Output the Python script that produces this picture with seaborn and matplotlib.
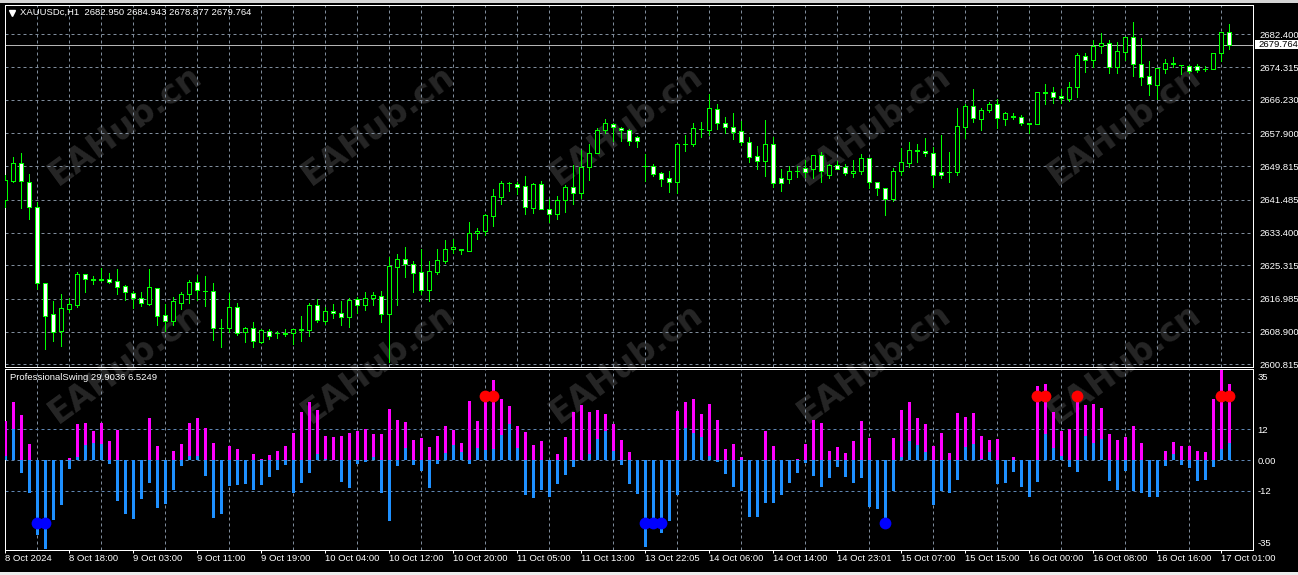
import numpy as np
import pandas as pd
import matplotlib
matplotlib.use('Agg')
import matplotlib.pyplot as plt
import matplotlib.transforms as mtransforms
from matplotlib.patches import Rectangle
import seaborn as sns

# XAUUSDc H1 bars (8 Oct 10:00 -> 17 Oct 02:00)
opens = [2641.4, 2646.2, 2650.7, 2645.8, 2639.6, 2621.0, 2613.3, 2609.1, 2614.6, 2615.6,
         2623.1, 2621.8, 2621.6, 2621.8, 2621.3, 2620.2, 2618.4, 2617.1, 2615.7, 2619.6,
         2612.9, 2611.6, 2616.1, 2618.1, 2621.1, 2619.0, 2618.9, 2609.8, 2609.9, 2615.0,
         2608.7, 2609.7, 2606.4, 2609.1, 2608.5, 2608.4, 2608.5, 2609.4, 2609.2, 2615.5,
         2611.6, 2613.9, 2613.4, 2612.4, 2616.9, 2615.6, 2617.1, 2617.8, 2613.2, 2625.0,
         2626.8, 2625.6, 2623.6, 2619.3, 2623.7, 2626.4, 2629.3, 2629.2, 2628.9, 2633.2,
         2633.8, 2637.6, 2642.3, 2645.7, 2645.5, 2644.8, 2639.5, 2645.3, 2639.3, 2637.9,
         2641.5, 2644.7, 2643.1, 2649.5, 2653.0, 2658.7, 2660.3, 2659.3, 2658.7, 2656.9,
         2649.8, 2649.8, 2648.0, 2646.8, 2646.0, 2655.3, 2655.4, 2659.0, 2658.8, 2663.9,
         2660.4, 2659.4, 2658.4, 2655.7, 2652.2, 2651.1, 2655.4, 2646.8, 2646.7, 2648.6,
         2649.3, 2649.2, 2652.5, 2647.6, 2650.0, 2649.5, 2648.0, 2648.5, 2651.7, 2645.8,
         2644.3, 2641.8, 2648.5, 2650.7, 2653.6, 2653.6, 2653.0, 2648.4, 2648.3, 2648.4,
         2659.6, 2664.6, 2661.5, 2663.6, 2665.1, 2661.5, 2662.0, 2662.0, 2660.3, 2660.2,
         2668.0, 2668.1, 2667.1, 2666.5, 2669.3, 2677.0, 2676.0, 2679.4, 2680.2, 2674.2,
         2678.1, 2681.7, 2675.0, 2672.0, 2669.8, 2673.9, 2675.1, 2674.9, 2674.6, 2674.5,
         2673.8, 2673.9, 2677.7, 2682.950]
highs = [2647.6, 2652.0, 2653.0, 2647.9, 2640.9, 2621.0, 2616.4, 2618.2, 2617.2, 2623.6,
         2623.1, 2622.7, 2624.6, 2623.5, 2624.3, 2620.5, 2619.0, 2618.6, 2624.4, 2619.7,
         2615.7, 2617.4, 2618.8, 2621.7, 2622.9, 2622.6, 2620.8, 2612.0, 2618.5, 2615.9,
         2610.1, 2611.3, 2609.5, 2609.5, 2609.0, 2609.5, 2609.6, 2612.8, 2615.9, 2616.9,
         2614.9, 2615.7, 2616.5, 2617.2, 2617.4, 2618.7, 2618.7, 2618.9, 2627.4, 2628.1,
         2629.7, 2626.4, 2629.3, 2626.4, 2629.3, 2631.5, 2631.9, 2629.3, 2635.9, 2634.4,
         2638.1, 2644.1, 2646.1, 2645.9, 2645.9, 2647.4, 2645.7, 2646.2, 2641.7, 2642.4,
         2645.1, 2650.0, 2653.8, 2655.2, 2659.2, 2661.4, 2660.5, 2659.6, 2658.9, 2657.3,
         2652.8, 2650.3, 2648.4, 2648.6, 2655.6, 2657.4, 2660.5, 2660.7, 2667.6, 2665.2,
         2661.9, 2662.9, 2660.9, 2656.9, 2654.8, 2661.2, 2657.1, 2649.0, 2649.8, 2649.8,
         2651.3, 2652.5, 2653.4, 2650.3, 2651.0, 2650.3, 2651.3, 2652.8, 2651.8, 2645.8,
         2644.4, 2649.3, 2654.2, 2655.8, 2655.4, 2656.7, 2654.6, 2657.5, 2653.3, 2664.2,
         2665.2, 2668.9, 2664.2, 2665.7, 2666.3, 2663.2, 2662.9, 2662.5, 2660.4, 2668.1,
         2670.1, 2669.4, 2668.9, 2670.6, 2677.7, 2677.7, 2681.0, 2682.7, 2681.0, 2680.4,
         2681.7, 2685.4, 2681.4, 2675.7, 2674.0, 2676.2, 2676.7, 2674.9, 2674.9, 2675.1,
         2674.6, 2677.9, 2682.95, 2684.943]
lows = [2639.8, 2645.9, 2639.5, 2636.7, 2619.5, 2604.7, 2606.6, 2605.3, 2613.7, 2614.9,
        2618.8, 2620.6, 2621.5, 2620.8, 2618.2, 2616.8, 2614.8, 2615.3, 2615.6, 2610.5,
        2609.1, 2610.5, 2614.6, 2616.0, 2616.6, 2615.3, 2606.9, 2605.2, 2608.9, 2608.0,
        2606.4, 2605.2, 2606.2, 2607.0, 2607.4, 2607.8, 2605.8, 2606.7, 2607.8, 2611.3,
        2610.8, 2612.3, 2610.6, 2610.1, 2613.6, 2614.2, 2615.5, 2611.4, 2601.4, 2615.5,
        2622.5, 2618.8, 2618.1, 2616.5, 2623.1, 2625.8, 2628.3, 2628.0, 2628.9, 2631.9,
        2632.8, 2635.1, 2640.5, 2643.7, 2642.9, 2638.1, 2638.3, 2639.1, 2635.9, 2636.8,
        2638.5, 2640.5, 2642.0, 2646.5, 2653.0, 2657.9, 2656.1, 2656.1, 2655.0, 2654.6,
        2646.2, 2647.4, 2644.9, 2643.5, 2643.1, 2653.6, 2654.9, 2657.1, 2657.5, 2659.0,
        2657.9, 2656.4, 2655.0, 2650.8, 2649.2, 2647.4, 2644.7, 2643.7, 2645.7, 2647.2,
        2647.2, 2646.8, 2645.9, 2647.0, 2649.0, 2647.6, 2647.2, 2647.9, 2644.3, 2642.7,
        2637.7, 2641.3, 2647.6, 2649.7, 2650.9, 2652.4, 2644.7, 2646.9, 2645.9, 2647.6,
        2656.7, 2660.8, 2658.7, 2663.2, 2659.2, 2660.0, 2661.5, 2660.1, 2658.1, 2660.2,
        2665.2, 2665.4, 2665.4, 2665.9, 2667.0, 2673.2, 2674.4, 2677.9, 2672.9, 2672.8,
        2676.0, 2672.2, 2669.9, 2667.4, 2666.5, 2672.9, 2674.2, 2672.7, 2672.9, 2673.2,
        2673.3, 2673.9, 2675.9, 2678.877]
closes = [2646.4, 2650.7, 2646.1, 2639.6, 2621.0, 2612.8, 2608.9, 2614.7, 2615.7, 2623.1,
          2621.8, 2621.7, 2621.9, 2621.1, 2620.0, 2618.6, 2617.1, 2615.9, 2619.9, 2612.8,
          2611.6, 2616.4, 2618.1, 2621.1, 2619.1, 2618.9, 2609.7, 2609.9, 2615.0, 2608.6,
          2609.7, 2606.5, 2609.2, 2607.7, 2608.5, 2608.5, 2609.5, 2609.6, 2615.5, 2611.8,
          2613.9, 2613.4, 2612.4, 2616.7, 2615.4, 2617.1, 2617.9, 2613.2, 2625.1, 2626.8,
          2625.6, 2623.5, 2619.3, 2623.8, 2626.5, 2629.3, 2629.7, 2629.3, 2633.3, 2633.9,
          2637.7, 2642.4, 2645.6, 2645.7, 2644.6, 2639.6, 2645.3, 2639.1, 2637.9, 2641.5,
          2644.7, 2643.1, 2649.7, 2653.0, 2658.7, 2660.5, 2659.4, 2658.7, 2656.1, 2656.1,
          2649.9, 2647.9, 2646.7, 2646.0, 2655.2, 2655.4, 2659.2, 2659.1, 2664.1, 2660.4,
          2659.4, 2658.3, 2655.7, 2652.1, 2651.1, 2655.4, 2645.7, 2645.7, 2648.5, 2648.6,
          2648.4, 2652.5, 2648.7, 2650.0, 2649.2, 2648.0, 2648.5, 2651.7, 2645.8, 2644.3,
          2641.8, 2648.6, 2650.8, 2653.7, 2653.7, 2653.0, 2647.7, 2647.7, 2648.4, 2659.7,
          2664.6, 2661.8, 2663.7, 2665.2, 2661.6, 2662.9, 2662.1, 2660.4, 2660.4, 2668.1,
          2668.1, 2667.0, 2666.6, 2669.3, 2677.2, 2676.0, 2679.5, 2680.2, 2674.2, 2678.2,
          2681.7, 2675.0, 2671.9, 2670.0, 2674.0, 2675.2, 2675.2, 2674.8, 2673.4, 2673.7,
          2673.9, 2677.7, 2682.9, 2679.764]

# ProfessionalSwing buffers
swing_main = [15.2, 22.7, 17.6, 6.3, 0, 0, 0, 0, 0.9, 14.1,
              14.5, 11.3, 14.5, 7.4, 11.7, 0, 0, 0, 16.4, 5.5,
              0, 3.5, 6.3, 14.5, 16.4, 12.5, 6.6, 0, 5.5, 4.3,
              0, 2.4, 0.4, 2.0, 3.5, 5.5, 10.6, 18.8, 22.7, 19.5,
              9.4, 8.9, 9.4, 10.4, 11.3, 12.0, 10.2, 10.2, 19.8, 15.5,
              14.9, 7.8, 8.6, 5.0, 9.4, 13.3, 11.7, 6.5, 22.9, 15.2,
              23.7, 31.3, 23.7, 21.1, 13.3, 10.9, 5.7, 7.4, 0, 2.4,
              9.0, 18.8, 21.4, 18.8, 19.5, 18.0, 14.1, 7.8, 3.1, 0,
              0, 0, 0, 0, 19.2, 22.7, 23.8, 18.0, 22.0, 15.6,
              4.3, 6.3, 1.2, 0, 0, 11.3, 5.5, 0, 0, 0.4,
              6.3, 15.6, 14.5, 3.5, 5.1, 2.7, 7.4, 15.2, 8.6, 0,
              0, 8.6, 19.5, 22.7, 16.4, 14.1, 5.5, 10.6, 2.7, 18.4,
              16.7, 18.4, 9.4, 7.8, 8.1, 0, 1.0, 0, 0, 28.9,
              29.7, 18.8, 11.3, 12.0, 26.7, 21.4, 21.9, 20.3, 10.2, 7.8,
              9.1, 13.3, 6.5, 0, 0, 3.5, 7.0, 5.5, 5.5, 3.5,
              3.1, 23.8, 35.2, 29.9036]
swing_signal = [1.7, 12.0, -5.0, -12.8, -29.2, -34.9, -23.5, -17.6, -3.5, 1.2,
                5.9, 6.5, 6.3, -1.4, -16.0, -21.1, -23.1, -15.1, -9.1, -18.6,
                -17.2, -11.7, -2.3, 1.6, 1.6, -6.3, -22.7, -21.1, -10.2, -9.8,
                -9.4, -11.7, -9.8, -6.6, -3.9, -2.0, -12.8, -8.9, -5.0, 2.4,
                0.3, 0.0, -8.5, -10.8, -1.4, -0.9, 1.0, -12.8, -23.8, -2.2,
                4.8, -1.8, -4.2, -10.8, -1.4, 2.6, 5.7, 3.3, -1.4, 4.8,
                3.9, 4.2, 9.8, 14.1, 4.7, -13.6, -14.7, -11.6, -14.3, -9.2,
                -5.7, -2.6, 0.0, 2.4, 8.1, 11.3, 3.5, -1.8, -9.2, -13.1,
                -33.9, -27.0, -28.4, -23.8, -13.6, 12.5, 10.6, 9.0, 1.7, -0.7,
                -5.3, -10.4, -12.2, -22.1, -22.1, -16.7, -16.8, -13.6, -8.9, -5.0,
                -1.0, -6.1, -10.4, -6.9, -2.6, -6.5, -8.9, -6.9, -18.2, -19.0,
                -22.7, -12.0, 1.0, 7.4, 5.9, 3.3, -17.5, -12.2, -12.8, -7.7,
                5.0, 6.3, 0.3, 3.3, -9.3, -8.9, -4.6, -10.4, -14.3, -8.5,
                10.2, 4.7, 1.6, -2.6, -4.6, 9.4, 6.5, 8.1, -8.1, -11.6,
                -4.2, -12.0, -12.8, -14.6, -14.3, -2.2, 2.4, -1.8, -3.0, -8.1,
                -7.7, -2.6, 4.2, 6.5249]

top_dot_bars = [60, 61, 129, 130, 134, 152, 153]
top_dot_values = [25.1, 25.1, 25.1, 25.1, 25.1, 25.1, 25.1]
bottom_dot_bars = [4, 5, 80, 81, 82, 110]
bottom_dot_values = [-24.6, -24.6, -24.6, -24.6, -24.6, -24.6]

price_levels = [2682.400, 2674.315, 2666.230, 2657.900, 2649.815, 2641.485,
                2633.400, 2625.315, 2616.985, 2608.900, 2600.815]
price_labels = ['2682.400', '2674.315', '2666.230', '2657.900', '2649.815', '2641.485',
                '2633.400', '2625.315', '2616.985', '2608.900', '2600.815']
last_price = 2679.764

swing_levels = [12, 0, -12]
swing_label_pos = [32.8, 12, 0, -12, -32.4]
swing_labels = ['35', '12', '0.00', '-12', '-35']

time_ticks = [0, 8, 16, 24, 32, 40, 48, 56, 64, 72,
              80, 88, 96, 104, 112, 120, 128, 136, 144, 152]
time_labels = ['8 Oct 2024', '8 Oct 18:00', '9 Oct 03:00', '9 Oct 11:00', '9 Oct 19:00',
               '10 Oct 04:00', '10 Oct 12:00', '10 Oct 20:00', '11 Oct 05:00', '11 Oct 13:00',
               '13 Oct 22:05', '14 Oct 06:00', '14 Oct 14:00', '14 Oct 23:01', '15 Oct 07:00',
               '15 Oct 15:00', '16 Oct 00:00', '16 Oct 08:00', '16 Oct 16:00', '17 Oct 01:00']

GREEN = '#00ff00'
GRID = '#7f8c9b'
LEVEL = '#5f86b3'
FS = 6.8
PX = 0.72  # one pixel in points

sns.set_theme(style='dark', rc={'axes.facecolor': 'black', 'figure.facecolor': 'black',
                                'savefig.facecolor': 'black'})
plt.rcParams['font.family'] = ['Liberation Sans', 'DejaVu Sans']

W, H = 1298, 575
def fx(px):
    return px / W
def fy(py):
    return 1 - py / H

fig = plt.figure(figsize=(W / 100, H / 100), dpi=100)

# background layer with the site watermark
bg = fig.add_axes([0, 0, 1, 1], zorder=0)
bg.set_facecolor('black')
bg.set_xlim(0, W)
bg.set_ylim(H, 0)
bg.axis('off')
for cy in (125, 363):
    for cx in (125, 378, 626, 874, 1124):
        bg.text(cx, cy, 'EAHub.cn', rotation=36, rotation_mode='anchor', ha='center', va='center',
                fontsize=24, fontweight='bold', color='#262626', family='DejaVu Sans')

df = pd.DataFrame({'bar': np.arange(len(opens)), 'open': opens, 'high': highs, 'low': lows,
                   'close': closes, 'main': swing_main, 'signal': swing_signal})
xlim = (-0.1, 155.9)

# ---- price pane
ax = fig.add_axes([fx(4.5), fy(366.7), fx(1252.7) - fx(4.5), fy(4.5) - fy(366.7)], zorder=1)
ax.set_facecolor('none')
ax.vlines(df['bar'], df['low'], df['high'], color=GREEN, linewidth=PX, antialiased=False, zorder=3)
bull = df['close'] >= df['open']
body_low = np.minimum(df['open'], df['close'])
body_h = np.maximum((df['close'] - df['open']).abs(), 0.03)
ax.bar(df['bar'], body_h, bottom=body_low, width=0.5,
       color=np.where(bull, 'black', 'white'), edgecolor=GREEN, linewidth=PX,
       antialiased=False, zorder=4)
ax.axhline(last_price, color='#b4b4b4', linewidth=PX, zorder=2)
ax.set_xlim(*xlim)
ax.set_ylim(2600.23, 2689.77)
ax.set_xticks(np.arange(4, 153, 4))
ax.set_yticks(price_levels)
ax.set_yticklabels(price_labels)
ax.yaxis.tick_right()
ax.tick_params(axis='x', length=0, labelbottom=False)
ax.tick_params(axis='y', length=0, pad=4.7, labelcolor='white', labelsize=FS)
ax.grid(True, color=GRID, linestyle=(0, (3, 3)), linewidth=PX, zorder=1)
ax.set_axisbelow(True)
for s in ax.spines.values():
    s.set_color('white')
    s.set_linewidth(PX)
    s.set_visible(True)

# last price box on the price scale
blend = mtransforms.blended_transform_factory(ax.transAxes, ax.transData)
ax.add_patch(Rectangle((1.0016, last_price - 1.11), 0.035, 2.22, transform=blend,
                       facecolor='white', edgecolor='none', clip_on=False, zorder=6))
ax.text(1.0045, last_price, '%.3f' % last_price, transform=blend, va='center', ha='left',
        fontsize=FS, color='black', zorder=7, clip_on=False)

ax.plot([fx(12)], [fy(12.5)], marker='v', ms=4, color='white', transform=fig.transFigure,
        clip_on=False, zorder=8)
fig.text(fx(20), fy(12.3), 'XAUUSDc,H1  %.3f %.3f %.3f %.3f' % (opens[-1], highs[-1], lows[-1], closes[-1]),
         ha='left', va='center', fontsize=FS, color='white', zorder=8)

# ---- ProfessionalSwing pane
ax2 = fig.add_axes([fx(4.5), fy(550), fx(1252.7) - fx(4.5), fy(369.3) - fy(550)], zorder=1)
ax2.set_facecolor('none')
sns.barplot(data=df, x='bar', y='main', color='#ff00ff', saturation=1, width=0.375,
            native_scale=True, errorbar=None, linewidth=0, ax=ax2, zorder=3)
sns.barplot(data=df, x='bar', y='signal', color='#1e90ff', saturation=1, width=0.375,
            native_scale=True, errorbar=None, linewidth=0, ax=ax2, zorder=4)
sns.scatterplot(x=top_dot_bars, y=top_dot_values, color='#ff0000', s=72, linewidth=0,
                ax=ax2, zorder=6, legend=False)
sns.scatterplot(x=bottom_dot_bars, y=bottom_dot_values, color='#0000ff', s=72, linewidth=0,
                ax=ax2, zorder=6, legend=False)
for lv in swing_levels:
    ax2.axhline(lv, color=LEVEL, linestyle=(0, (3, 3)), linewidth=PX, zorder=2)
ax2.set_xlim(*xlim)
ax2.set_ylim(-35.18, 35.46)
ax2.set_xlabel('')
ax2.set_ylabel('')
ax2.set_xticks(time_ticks)
ax2.set_xticklabels(time_labels, ha='left')
ax2.set_xticks(np.arange(4, 153, 4), minor=True)
ax2.tick_params(axis='x', which='major', bottom=True, direction='out', length=3 * PX,
                width=PX, color='white', pad=1, labelcolor='white', labelsize=FS)
ax2.tick_params(axis='x', which='minor', length=0)
ax2.grid(False, which='major')
ax2.grid(True, which='minor', axis='x', color=GRID, linestyle=(0, (3, 3)), linewidth=PX)
ax2.set_axisbelow(True)
ax2.set_yticks(swing_label_pos)
ax2.set_yticklabels(swing_labels)
ax2.yaxis.tick_right()
ax2.tick_params(axis='y', length=0, pad=3.3, labelcolor='white', labelsize=FS)
for s in ax2.spines.values():
    s.set_color('white')
    s.set_linewidth(PX)
    s.set_visible(True)
fig.text(fx(10), fy(378), 'ProfessionalSwing %.4f %.4f' % (swing_main[-1], swing_signal[-1]),
         ha='left', va='center', fontsize=FS, color='white', zorder=8)

# window frame strips
fig.patches.append(Rectangle((0, fy(2.5)), 1, 2.5 / H, transform=fig.transFigure,
                             facecolor='#d4d4d4', edgecolor='none', zorder=9))
fig.patches.append(Rectangle((0, 0), 1, 3.5 / H, transform=fig.transFigure,
                             facecolor='#ececec', edgecolor='none', zorder=9))

fig.savefig('out.png', dpi=100, facecolor='black')
